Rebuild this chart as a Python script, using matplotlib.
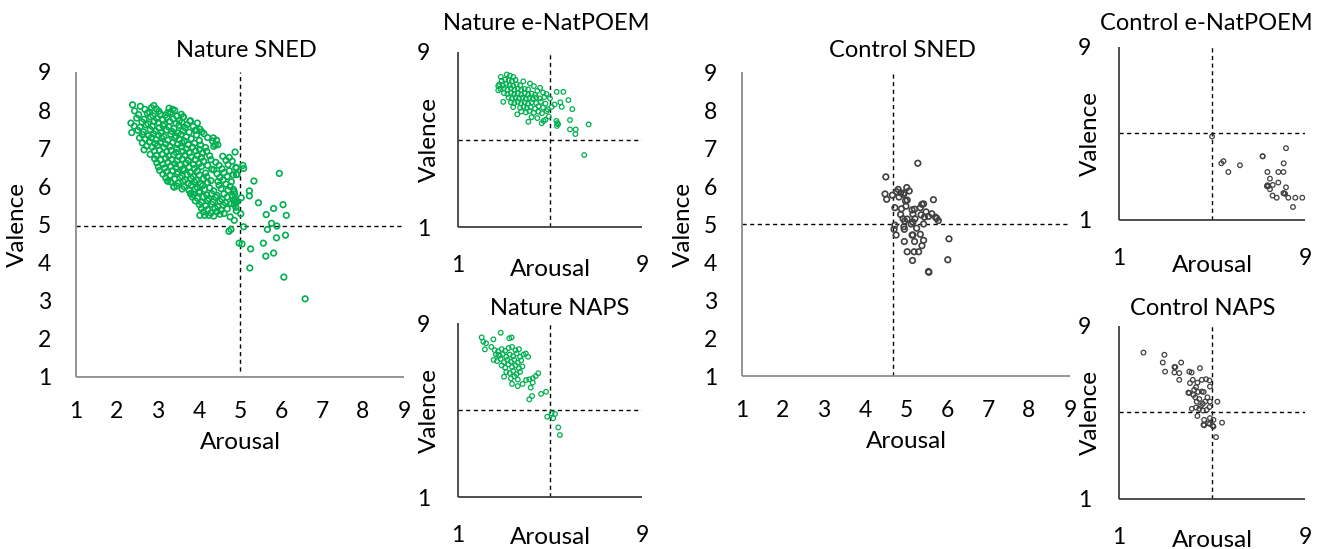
#!/usr/bin/env python3
"""
Valence / arousal scatter plots: Nature vs Control stimuli
(SNED, e-NatPOEM and NAPS image sets)
"""

import matplotlib
matplotlib.use('Agg')
import matplotlib.pyplot as plt

plt.rcParams['font.family'] = ['Lato', 'DejaVu Sans']

# (arousal, valence) pairs
nature_sned = [
    (2.38, 8.14), (2.57, 8.10), (2.84, 8.06), (2.90, 8.12), (3.27, 8.05), (3.36, 8.02),
    (2.43, 7.98), (2.68, 8.02), (2.79, 7.95), (2.96, 8.03), (3.02, 7.97), (3.24, 7.93), (3.41, 7.99),
    (2.53, 7.88), (2.74, 7.92), (2.88, 7.85), (3.06, 7.90), (3.18, 7.87), (3.31, 7.94), (3.46, 7.84),
    (3.57, 7.89), (2.48, 7.79), (2.66, 7.76), (2.82, 7.82), (2.97, 7.78), (3.11, 7.74), (3.22, 7.81),
    (3.37, 7.77), (3.52, 7.73), (3.62, 7.82), (3.79, 7.72), (2.34, 7.66), (2.61, 7.69), (2.76, 7.64),
    (2.91, 7.71), (3.01, 7.67), (3.16, 7.63), (3.29, 7.70), (3.44, 7.65), (3.58, 7.68), (3.71, 7.62),
    (3.96, 7.66), (2.42, 7.58), (2.56, 7.55), (2.71, 7.61), (2.86, 7.57), (3.03, 7.53), (3.12, 7.59),
    (3.26, 7.56), (3.39, 7.52), (3.51, 7.60), (3.66, 7.54), (3.86, 7.57), (4.02, 7.50), (2.51, 7.47),
    (2.64, 7.43), (2.81, 7.49), (2.94, 7.45), (3.07, 7.41), (3.21, 7.48), (3.34, 7.44), (3.49, 7.40),
    (3.61, 7.46), (3.76, 7.42), (3.91, 7.47), (4.07, 7.43), (2.36, 7.41), (2.62, 7.36), (2.77, 7.33),
    (2.89, 7.38), (3.01, 7.34), (3.14, 7.31), (3.31, 7.37), (3.44, 7.32), (3.56, 7.36), (3.69, 7.30),
    (3.94, 7.35), (4.12, 7.38), (2.55, 7.27), (2.69, 7.24), (2.84, 7.28), (2.96, 7.22), (3.09, 7.26),
    (3.24, 7.21), (3.41, 7.27), (3.52, 7.23), (3.64, 7.19), (3.81, 7.25), (4.01, 7.20), (4.21, 7.28),
    (2.62, 7.14), (2.79, 7.17), (2.93, 7.12), (3.06, 7.16), (3.19, 7.11), (3.36, 7.15), (3.48, 7.10),
    (3.59, 7.14), (3.74, 7.09), (3.89, 7.13), (4.04, 7.08), (4.33, 7.19), (4.43, 7.21), (2.72, 7.06),
    (2.86, 7.03), (2.99, 7.07), (3.14, 7.02), (3.29, 7.05), (3.46, 6.99), (3.57, 7.04), (3.69, 6.98),
    (3.84, 7.03), (4.01, 6.97), (4.16, 7.02), (4.46, 7.09), (2.66, 6.96), (2.91, 6.93), (3.04, 6.95),
    (3.21, 6.91), (3.32, 6.94), (3.44, 6.89), (3.61, 6.92), (3.76, 6.88), (3.92, 6.93), (4.09, 6.87),
    (4.19, 6.92), (4.36, 7.05), (2.81, 6.84), (2.96, 6.81), (3.11, 6.85), (3.26, 6.80), (3.39, 6.83),
    (3.51, 6.78), (3.66, 6.82), (3.81, 6.77), (3.96, 6.81), (4.06, 6.76), (4.26, 6.80), (4.88, 6.90),
    (2.92, 6.72), (3.06, 6.69), (3.19, 6.74), (3.34, 6.70), (3.46, 6.67), (3.59, 6.72), (3.74, 6.68),
    (3.91, 6.71), (4.11, 6.66), (4.29, 6.70), (4.58, 6.79), (4.74, 6.76), (2.97, 6.62), (3.12, 6.58),
    (3.24, 6.63), (3.41, 6.59), (3.54, 6.56), (3.69, 6.61), (3.86, 6.57), (4.01, 6.60), (4.21, 6.55),
    (4.41, 6.63), (4.66, 6.68), (4.81, 6.66), (3.01, 6.51), (3.16, 6.48), (3.31, 6.53), (3.44, 6.49),
    (3.61, 6.46), (3.76, 6.51), (3.89, 6.47), (4.06, 6.52), (4.31, 6.45), (4.49, 6.55), (4.71, 6.57),
    (3.04, 6.42), (3.21, 6.38), (3.36, 6.41), (3.49, 6.37), (3.64, 6.42), (3.79, 6.36), (3.96, 6.40),
    (4.16, 6.35), (4.36, 6.43), (4.56, 6.46), (4.74, 6.41), (4.91, 6.48), (3.12, 6.32), (3.29, 6.29),
    (3.46, 6.33), (3.59, 6.27), (3.71, 6.31), (3.86, 6.26), (4.01, 6.30), (4.19, 6.25), (4.44, 6.33),
    (4.61, 6.36), (4.84, 6.30), (3.19, 6.22), (3.41, 6.19), (3.54, 6.23), (3.66, 6.17), (3.81, 6.21),
    (3.94, 6.16), (4.11, 6.20), (4.29, 6.15), (4.51, 6.23), (4.69, 6.26), (4.93, 6.31), (3.31, 6.12),
    (3.49, 6.09), (3.61, 6.13), (3.74, 6.07), (3.89, 6.11), (4.04, 6.06), (4.21, 6.10), (4.46, 6.13),
    (4.59, 6.17), (4.79, 6.12), (3.24, 6.14), (3.46, 6.01), (3.64, 5.99), (3.81, 6.03), (3.96, 5.97),
    (4.09, 6.02), (4.26, 5.96), (4.49, 6.03), (4.66, 6.06), (4.76, 6.00), (3.39, 5.98), (3.59, 5.93),
    (3.76, 5.89), (3.91, 5.93), (4.01, 5.87), (4.14, 5.92), (4.36, 5.88), (4.54, 5.94), (4.71, 5.90),
    (3.79, 5.81), (3.86, 5.78), (4.01, 5.83), (4.19, 5.77), (4.31, 5.81), (4.44, 5.76), (4.61, 5.80),
    (4.86, 5.86), (3.84, 5.72), (3.96, 5.69), (4.11, 5.73), (4.24, 5.68), (4.41, 5.71), (4.56, 5.66),
    (4.69, 5.72), (4.81, 5.75), (3.91, 5.62), (4.06, 5.58), (4.21, 5.63), (4.34, 5.59), (4.51, 5.61),
    (4.64, 5.57), (4.84, 5.64), (4.01, 5.52), (4.16, 5.49), (4.31, 5.53), (4.46, 5.47), (4.59, 5.51),
    (4.79, 5.55), (4.89, 5.58), (4.06, 5.42), (4.21, 5.39), (4.39, 5.43), (4.54, 5.38), (4.69, 5.41),
    (4.11, 5.33), (4.29, 5.30), (4.44, 5.34), (4.61, 5.29), (4.91, 5.36), (4.14, 5.24), (4.36, 5.22),
    (4.51, 5.27), (4.02, 5.24), (4.24, 5.24), (4.84, 5.92), (4.87, 5.80), (4.89, 5.66), (4.86, 5.53),
    (4.90, 5.45), (4.93, 5.60), (4.35, 7.27), (4.40, 7.09), (3.61, 7.82), (3.78, 7.71), (3.94, 7.47),
    (3.23, 6.14), (3.39, 5.99), (3.80, 5.81),
    # right-hand tail
    (6.59, 3.05), (6.07, 3.62), (5.24, 3.86), (5.63, 4.17), (5.82, 4.25), (5.26, 4.36), (5.57, 4.51),
    (4.98, 4.51), (5.05, 4.49), (5.89, 4.65), (6.11, 4.72), (5.67, 4.87), (5.90, 4.96), (5.77, 5.03),
    (5.09, 4.94), (4.73, 4.82), (4.78, 4.87), (4.86, 5.11), (4.76, 5.20), (5.02, 5.28), (5.64, 5.26),
    (6.13, 5.24), (5.82, 5.42), (6.05, 5.52), (5.45, 5.57), (5.96, 6.34), (5.34, 6.14), (5.23, 5.88),
    (5.23, 5.75), (5.03, 5.70), (5.07, 6.55), (5.09, 6.47), (4.90, 6.50), (4.91, 6.31),
]

nature_poem = [
    (2.86, 7.86), (3.12, 7.97), (3.25, 7.92), (3.41, 7.86), (2.75, 7.45), (2.75, 7.25), (2.97, 6.72),
    (2.90, 7.68), (3.05, 7.74), (3.20, 7.70), (3.35, 7.66), (3.50, 7.72), (3.84, 7.66),
    (2.80, 7.52), (2.95, 7.48), (3.10, 7.55), (3.25, 7.50), (3.40, 7.46), (3.55, 7.52), (3.70, 7.48),
    (4.13, 7.56), (4.30, 7.44), (2.85, 7.30), (3.00, 7.34), (3.15, 7.28), (3.30, 7.33), (3.45, 7.27),
    (3.60, 7.32), (3.75, 7.26), (3.90, 7.31), (4.05, 7.29), (4.57, 7.36), (4.45, 7.22),
    (3.00, 7.12), (3.15, 7.08), (3.30, 7.14), (3.45, 7.07), (3.60, 7.11), (3.75, 7.06), (3.90, 7.12),
    (4.05, 7.05), (4.20, 7.10), (4.35, 7.04), (4.70, 7.15), (4.85, 7.08),
    (3.20, 6.92), (3.35, 6.88), (3.50, 6.93), (3.65, 6.87), (3.80, 6.91), (3.95, 6.86), (4.10, 6.90),
    (4.25, 6.85), (4.40, 6.92), (4.55, 6.88), (4.75, 6.94), (5.00, 6.88),
    (3.30, 6.70), (3.45, 6.66), (3.60, 6.72), (3.75, 6.65), (3.90, 6.69), (4.05, 6.64), (4.20, 6.70),
    (4.40, 6.66), (4.60, 6.72), (4.80, 6.64), (5.07, 6.49), (5.20, 6.60),
    (3.40, 6.48), (3.58, 6.15), (3.70, 6.45), (3.85, 6.50), (4.00, 6.44), (4.15, 6.48), (4.35, 6.42),
    (4.50, 6.52), (4.70, 6.46), (4.90, 6.38), (5.51, 6.49), (5.45, 6.70),
    (3.75, 6.28), (3.95, 6.24), (4.10, 6.30), (4.30, 6.22), (4.50, 6.27), (4.65, 6.20), (4.85, 6.30),
    (5.97, 6.39), (4.06, 5.81), (4.20, 6.02), (4.45, 5.98), (4.64, 5.74), (4.80, 5.90), (4.95, 6.05),
    (4.72, 5.85), (5.29, 7.18), (5.58, 7.18), (5.80, 6.80), (5.87, 5.89), (5.30, 5.62), (5.32, 5.75),
    (5.28, 5.85), (5.35, 5.70), (5.87, 5.46), (6.10, 5.25), (6.12, 5.46), (6.68, 5.69), (6.49, 4.29),
]

nature_naps = [
    (2.03, 8.34), (2.10, 8.14), (2.22, 8.07), (2.17, 7.79), (2.54, 8.25), (2.86, 8.55), (3.23, 8.30),
    (3.33, 8.34), (2.45, 7.90), (2.60, 7.75), (2.75, 7.70), (2.90, 7.80), (3.05, 7.72), (3.20, 7.85),
    (3.35, 7.90), (3.50, 7.75), (3.65, 7.80), (2.65, 7.55), (2.80, 7.50), (2.95, 7.58), (3.10, 7.45),
    (3.25, 7.55), (3.40, 7.48), (3.55, 7.60), (3.70, 7.45), (3.85, 7.55), (2.55, 7.30), (2.70, 7.25),
    (2.85, 7.35), (3.00, 7.20), (3.15, 7.30), (3.30, 7.22), (3.45, 7.32), (3.60, 7.18), (3.75, 7.28),
    (3.95, 7.60), (4.05, 7.45), (2.90, 7.05), (3.05, 6.95), (3.20, 7.10), (3.35, 6.98), (3.50, 7.05),
    (3.65, 6.92), (3.80, 7.00), (3.10, 6.75), (3.25, 6.70), (3.40, 6.80), (3.55, 6.65), (3.70, 6.75),
    (3.00, 6.53), (3.30, 6.45), (3.45, 6.55), (3.60, 6.40), (3.81, 6.20), (3.96, 6.38), (4.10, 6.41),
    (4.25, 6.46), (4.25, 6.26), (4.38, 6.56), (4.49, 6.69), (4.16, 6.03), (4.22, 5.64), (4.10, 5.49),
    (4.61, 5.74), (4.83, 5.84), (4.88, 4.69), (5.07, 4.85), (5.22, 4.82), (5.14, 4.62), (5.36, 4.20),
    (5.43, 3.85), (3.35, 6.20), (3.60, 6.10), (2.75, 7.53),
]

control_sned = [
    (5.29, 6.60), (4.51, 6.24), (4.49, 5.79), (4.53, 5.65), (4.67, 5.76), (4.77, 5.85), (4.81, 5.91),
    (4.87, 5.82), (4.83, 5.71), (4.94, 5.78), (4.96, 5.82), (5.02, 5.96), (5.08, 5.87), (4.99, 5.61),
    (5.03, 5.63), (5.00, 5.47), (4.73, 5.43), (4.89, 5.40), (4.87, 5.25), (4.93, 5.14), (4.97, 5.08),
    (5.03, 5.13), (5.15, 5.37), (5.21, 5.39), (5.17, 5.26), (5.22, 5.14), (5.17, 5.05), (5.13, 5.00),
    (5.35, 5.43), (5.39, 5.52), (5.43, 5.53), (5.49, 5.32), (5.37, 5.24), (5.45, 5.18), (5.55, 5.20),
    (5.63, 5.27), (5.72, 5.18), (5.75, 5.15), (5.79, 5.09), (5.67, 5.64), (5.43, 5.00), (4.73, 4.97),
    (4.95, 4.93), (4.96, 4.86), (4.71, 4.86), (4.76, 4.71), (5.26, 4.89), (5.35, 4.73), (5.15, 4.71),
    (5.17, 4.71), (4.96, 4.54), (5.21, 4.54), (5.43, 4.57), (5.39, 4.43), (5.03, 4.27), (5.20, 4.27),
    (5.31, 4.27), (5.16, 4.04), (5.55, 3.75), (5.56, 3.73), (6.05, 4.61), (6.02, 4.06),
]

control_poem = [
    (5.00, 4.86), (5.40, 3.62), (5.49, 3.72), (5.70, 3.22), (6.20, 3.53), (7.17, 3.95), (7.18, 3.94),
    (8.18, 4.32), (8.08, 3.62), (7.38, 3.22), (7.85, 3.22), (8.07, 3.22), (7.49, 2.91), (7.85, 2.73),
    (7.38, 2.61), (7.36, 2.56), (7.42, 2.57), (7.61, 2.62), (7.49, 2.42), (8.18, 2.51), (7.60, 2.13),
    (7.78, 2.03), (8.07, 2.24), (8.14, 2.21), (8.10, 2.23), (8.28, 2.03), (8.58, 2.03), (8.88, 2.03),
    (8.48, 1.60),
]

control_naps = [
    (2.05, 7.77), (2.95, 7.67), (2.88, 7.31), (2.98, 6.89), (3.38, 7.10), (3.42, 7.10), (3.67, 7.31),
    (3.38, 6.85), (3.59, 6.82), (3.59, 6.51), (4.02, 6.89), (4.12, 6.85), (4.48, 7.05), (4.17, 6.51),
    (4.05, 6.36), (4.37, 6.38), (4.56, 6.51), (4.74, 6.54), (4.89, 6.48), (4.31, 6.17), (4.23, 6.05),
    (4.56, 5.97), (3.98, 5.92), (4.02, 5.90), (4.20, 5.81), (4.91, 6.20), (4.45, 5.62), (4.70, 5.50),
    (4.91, 5.50), (4.60, 5.40), (5.23, 5.50), (4.13, 5.17), (4.31, 5.23), (4.45, 5.17), (4.60, 5.09),
    (4.77, 5.12), (4.89, 5.25), (4.37, 4.84), (4.66, 4.66), (4.91, 4.74), (5.06, 4.66), (4.63, 4.43),
    (4.84, 4.50), (4.91, 4.47), (5.06, 4.35), (5.43, 4.53), (5.17, 3.86), (4.66, 4.41), (5.03, 4.38),
    (4.34, 5.50), (4.52, 5.30), (4.40, 5.95), (4.64, 5.95), (4.80, 5.70), (4.28, 5.70),
]

GREEN = '#00b050'
GREY = '#404040'


def draw_panel(fig, rect, points, title, color, big, cross, title_pad, title_x, xlab_y,
               vline_bottom=1.0):
    ax = fig.add_axes(rect)
    arousal = [p[0] for p in points]
    valence = [p[1] for p in points]

    if big:
        ms, mew = 16, 1.2
    else:
        ms, mew = 11, 0.9

    ax.scatter(arousal, valence, s=ms, facecolors='none', edgecolors=color,
               linewidths=mew, zorder=3)

    # quadrant lines
    ax.vlines(cross[0], vline_bottom, 9, colors='k', linestyles=(0, (3, 2.5)),
              linewidth=1.0, zorder=2)
    ax.hlines(cross[1], 1, 9, colors='k', linestyles=(0, (3, 2.5)),
              linewidth=1.0, zorder=2)

    ax.set_xlim(1, 9)
    ax.set_ylim(1, 9)
    for side in ['top', 'right']:
        ax.spines[side].set_visible(False)
    spine_col = '#8c8c8c' if big else '#404040'
    for side in ['left', 'bottom']:
        ax.spines[side].set_color(spine_col)
        ax.spines[side].set_linewidth(1.3)
        ax.spines[side].set_capstyle('butt')

    ax.set_xlabel('Arousal', fontsize=17.5)
    ax.set_ylabel('Valence', fontsize=17.5)
    if big:
        ax.set_xticks(range(1, 10))
        ax.set_yticks(range(1, 10))
        ax.tick_params(axis='x', length=0, pad=17, labelsize=16.5)
        ax.tick_params(axis='y', length=0, pad=18, labelsize=16.5)
        ax.xaxis.set_label_coords(0.5, xlab_y)
        ax.yaxis.set_label_coords(-0.146, 0.5)
    else:
        ax.set_xticks([1, 9])
        ax.set_yticks([1, 9])
        ax.tick_params(axis='both', length=0, pad=20, labelsize=16.5)
        ax.xaxis.set_label_coords(0.5, xlab_y)
        ax.yaxis.set_label_coords(-0.098, 0.5)

    ax.set_title(title, fontsize=17, pad=title_pad, x=title_x)
    return ax


def main():
    fig = plt.figure(figsize=(13.24, 5.49), dpi=100)

    draw_panel(fig, [0.0574, 0.3133, 0.2477, 0.5556], nature_sned, 'Nature SNED',
               GREEN, True, (5.0, 4.95), 11, 0.52, -0.18, vline_bottom=1.15)
    draw_panel(fig, [0.3459, 0.5865, 0.1390, 0.3188], nature_poem, 'Nature e-NatPOEM',
               GREEN, False, (5.0, 5.0), 16, 0.48, -0.18)
    draw_panel(fig, [0.3459, 0.0947, 0.1390, 0.3169], nature_naps, 'Nature NAPS',
               GREEN, False, (5.0, 5.0), 6, 0.55, -0.175)
    draw_panel(fig, [0.5604, 0.3151, 0.2477, 0.5537], control_sned, 'Control SNED',
               GREY, True, (4.68, 5.0), 11, 0.49, -0.18)
    draw_panel(fig, [0.8452, 0.5993, 0.1405, 0.3151], control_poem, 'Control e-NatPOEM',
               GREY, False, (5.0, 5.0), 12, 0.47, -0.2)
    draw_panel(fig, [0.8452, 0.0911, 0.1405, 0.3151], control_naps, 'Control NAPS',
               GREY, False, (5.0, 5.0), 8, 0.45, -0.18)

    fig.savefig('out.png', dpi=100)


if __name__ == '__main__':
    main()
